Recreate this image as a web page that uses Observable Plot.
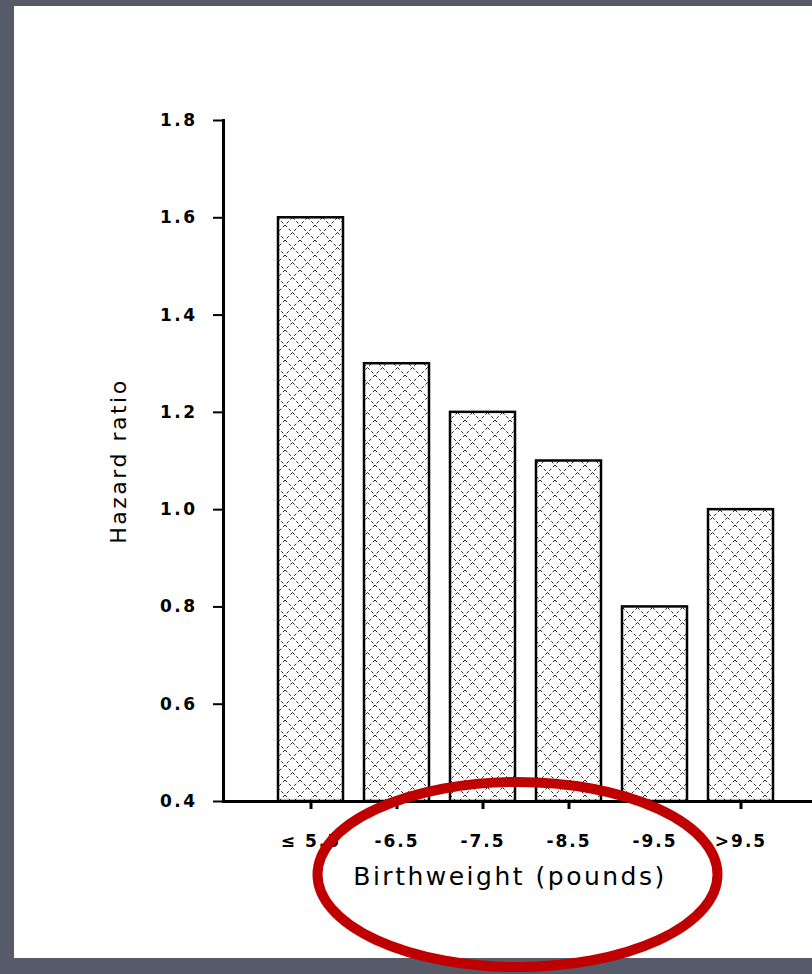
<!DOCTYPE html>
<html>
<head>
<meta charset="utf-8">
<script src="https://cdn.jsdelivr.net/npm/d3@7"></script>
<script src="https://cdn.jsdelivr.net/npm/@observablehq/plot@0.6"></script>
<style>
  html, body { margin: 0; padding: 0; width: 812px; height: 974px; overflow: hidden; background: #565a69; }
  #panel { position: absolute; left: 14px; top: 6px; width: 798px; height: 952px; background: #fff; }
  #chart { position: absolute; left: 0; top: 0; }
</style>
</head>
<body>
<div id="panel"></div>
<div id="chart"></div>
<script>
// Birthweight groups and hazard ratios
const categories = ["≤ 5.5", "-6.5", "-7.5", "-8.5", "-9.5", ">9.5"];
const hazardRatios = [1.6, 1.3, 1.2, 1.1, 0.8, 1.0];
const yTicks = [0.4, 0.6, 0.8, 1.0, 1.2, 1.4, 1.6, 1.8];
const yLabel = "Hazard ratio";
const xLabel = "Birthweight (pounds)";

const data = categories.map((group, i) => ({group, hr: hazardRatios[i]}));
const base = yTicks[0];

const W = 812, H = 974;
const mLeft = 223, mRight = 0, mTop = 120, mBottom = 173;

const chart = Plot.plot({
  width: W,
  height: H,
  marginLeft: mLeft,
  marginRight: mRight,
  marginTop: mTop,
  marginBottom: mBottom,
  style: {background: "transparent", fontFamily: "DejaVu Sans, sans-serif", color: "#000", overflow: "visible"},
  x: {domain: categories, paddingInner: 0.25, paddingOuter: 0.525, align: 0.58, axis: null},
  y: {domain: [base, yTicks[yTicks.length - 1]], axis: null},
  marks: [
    Plot.barY(data, {x: "group", y1: base, y2: "hr", fill: "url(#hatch)", stroke: "#000", strokeWidth: 2.5}),
    Plot.ruleY([base], {strokeWidth: 3}),
    Plot.frame({anchor: "left", strokeWidth: 3}),
    Plot.axisY({ticks: yTicks, tickSize: 10, tickPadding: 16, tickFormat: d3.format(".1f"),
      fontSize: 17, fontWeight: "bold", strokeWidth: 2, label: null}),
    Plot.axisX({tickSize: 8, tickPadding: 25, fontSize: 17, fontWeight: "bold", strokeWidth: 3, label: null}),
    Plot.text([yLabel], {frameAnchor: "left", textAnchor: "middle", dx: -105, rotate: -90, fontSize: 22}),
    Plot.text([xLabel], {frameAnchor: "bottom", dx: -8, dy: 83, fontSize: 25})
  ]
});

document.getElementById("chart").appendChild(chart);

// Dashed cross-hatch fill for the bars
const svg = d3.select(chart);
const defs = svg.insert("defs", ":first-child");
const pat = defs.append("pattern")
  .attr("id", "hatch")
  .attr("patternUnits", "userSpaceOnUse")
  .attr("width", 15).attr("height", 15);
pat.append("rect").attr("width", 15).attr("height", 15).attr("fill", "#fff");
pat.append("path")
  .attr("d", "M0,0L15,15M15,0L0,15")
  .attr("stroke", "#222")
  .attr("stroke-width", 1)
  .attr("stroke-dasharray", "3,2.3");

// Wider lettering for the labels
svg.selectAll("g[aria-label='x-axis tick label'] text").attr("letter-spacing", "2px");
svg.selectAll("g[aria-label='y-axis tick label'] text").attr("letter-spacing", "2.5px");
svg.selectAll("g[aria-label='text'] text").attr("letter-spacing", "2.5px");

// Red highlight ring around the x-axis title
const frameCx = (mLeft + (W - mRight)) / 2;
const axisY = H - mBottom;
svg.append("ellipse")
  .attr("cx", frameCx)
  .attr("cy", axisY + 73.5)
  .attr("rx", 200)
  .attr("ry", 92.5)
  .attr("fill", "none")
  .attr("stroke", "#c00000")
  .attr("stroke-width", 10);
</script>
</body>
</html>
